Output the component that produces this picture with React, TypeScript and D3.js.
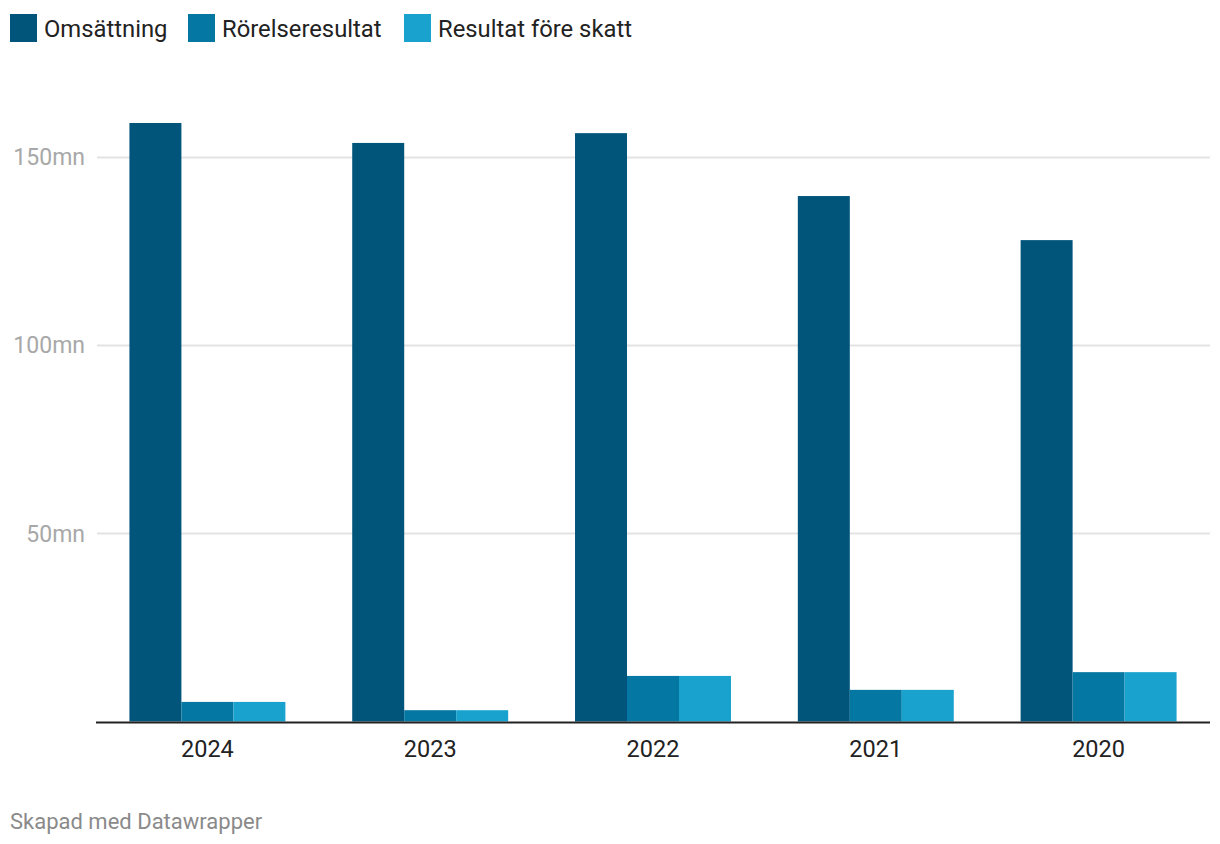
import React from "react";
import * as d3 from "d3";

const years = ["2024", "2023", "2022", "2021", "2020"];
const seriesNames = ["Omsättning", "Rörelseresultat", "Resultat före skatt"];
const omsattning = [158.9, 153.6, 156.2, 139.5, 127.8];
const rorelseresultat = [5.2, 3.0, 12.1, 8.4, 13.1];
const resultatForeSkatt = [5.2, 3.0, 12.1, 8.4, 13.1];
const yTicks = [50, 100, 150];
const colors = ["#01547a", "#0477a2", "#1aa2ce"];

export default function App() {
  const W = 1220, H = 844;
  const series = [omsattning, rorelseresultat, resultatForeSkatt];
  const x0 = d3.scaleBand<string>().domain(years).range([96, 1210]).paddingInner(0.3).paddingOuter(0.15);
  const x1 = d3.scaleBand<number>().domain([0, 1, 2]).range([0, x0.bandwidth()]).padding(0);
  const y = d3.scaleLinear().domain([0, 150]).range([721.5, 156.5]);
  const font = "Roboto, 'Noto Sans', sans-serif";
  const legendX = [10, 188, 404];
  return (
    <svg width={W} height={H} style={{ position: "absolute", left: 0, top: 0, background: "#fff" }} fontFamily={font}>
      {seriesNames.map((n, i) => (
        <g key={n}>
          <rect x={legendX[i]} y={14} width={27} height={28} fill={colors[i]} />
          <text x={legendX[i] + 34} y={36.5} fontSize={23.8} fill="#222">{n}</text>
        </g>
      ))}
      {yTicks.map((t) => (
        <g key={t}>
          <line x1={97} x2={1210} y1={Math.round(y(t)) + 0.5} y2={Math.round(y(t)) + 0.5} stroke="#e3e3e3" strokeWidth={2} />
          <text x={85} y={y(t) + 8.5} textAnchor="end" fontSize={23} fill="#a8a8a8">{t}mn</text>
        </g>
      ))}
      {years.map((yr, gi) => (
        <g key={yr} transform={`translate(${x0(yr)},0)`}>
          {series.map((s, si) => (
            <rect key={si} x={x1(si)} width={x1.bandwidth()} y={y(s[gi])} height={y(0) - y(s[gi])} fill={colors[si]} />
          ))}
          <text x={x0.bandwidth() / 2} y={756.5} textAnchor="middle" fontSize={23.5} fill="#222">{yr}</text>
        </g>
      ))}
      <line x1={96} x2={1210} y1={722.5} y2={722.5} stroke="#222" strokeWidth={2} />
      <text x={10} y={829} fontSize={22} fill="#8a8a8a">Skapad med Datawrapper</text>
    </svg>
  );
}
